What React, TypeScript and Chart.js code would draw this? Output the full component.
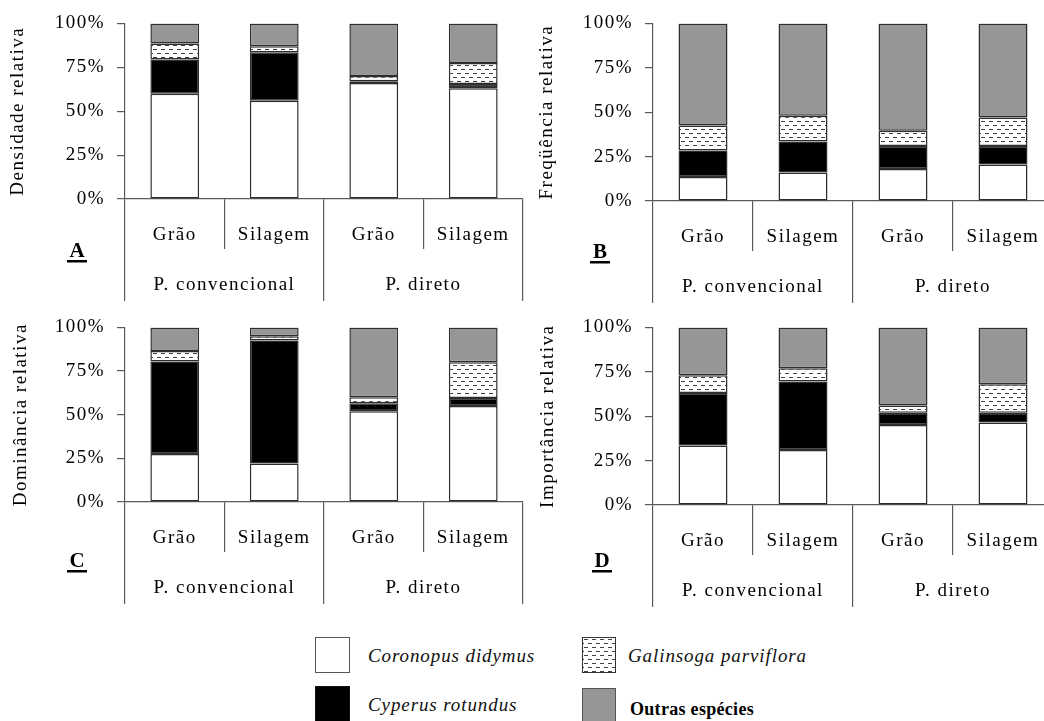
import React, { useEffect, useMemo, useRef } from "react";
import { Chart, registerables } from "chart.js";

Chart.register(...registerables);

// ---------- data ----------
const categories = ["Grão", "Silagem", "Grão", "Silagem"];
const groups = ["P. convencional", "P. direto"];
const yTickValues = [0, 25, 50, 75, 100];
const yTickLabels = ["0%", "25%", "50%", "75%", "100%"];
const speciesNames = ["Coronopus didymus", "Cyperus rotundus", "Galinsoga parviflora", "Outras espécies"];

// A - Densidade relativa
const densCoronopus = [60, 56, 66, 63];
const densCyperus = [19.5, 27.5, 1, 2.5];
const densGalinsoga = [9, 3.5, 3, 12];
const densOutras = [11.5, 13, 30, 22.5];
// B - Freqüência relativa
const freqCoronopus = [13.5, 16, 18, 20.5];
const freqCyperus = [15, 17.5, 13, 10.5];
const freqGalinsoga = [14, 14.5, 8.5, 16];
const freqOutras = [57.5, 52, 60.5, 53];
// C - Dominância relativa
const domCoronopus = [27.5, 22, 52, 55];
const domCyperus = [53, 70.5, 4.5, 4.5];
const domGalinsoga = [6, 2.5, 3.5, 20.5];
const domOutras = [13.5, 5, 40, 20];
// D - Importância relativa
const impCoronopus = [33.5, 31, 45, 46.5];
const impCyperus = [29.5, 38.5, 7, 5.5];
const impGalinsoga = [10, 7.5, 4, 16];
const impOutras = [27, 23, 44, 32];

// ---------- styles ----------
const FONT = "'Liberation Serif', 'Times New Roman', serif";
const TEXT = "#000000";
const AXIS = "#5a5a5a";
const BAR_BORDER = "#2e2e2e";
const GREY = "#969696";

Chart.defaults.font.family = FONT;
Chart.defaults.font.size = 19;
Chart.defaults.color = TEXT;

function makePatternCanvas(): HTMLCanvasElement {
  const c = document.createElement("canvas");
  c.width = 8;
  c.height = 8;
  const g = c.getContext("2d")!;
  g.fillStyle = "#ffffff";
  g.fillRect(0, 0, 8, 8);
  g.fillStyle = "#404040";
  g.fillRect(1, 1, 4, 1);
  g.fillRect(5, 5, 3, 1);
  g.fillRect(0, 5, 1, 1);
  return c;
}

type PanelProps = {
  left: number;
  top: number;
  width: number;
  plotTop: number;
  plotHeight: number;
  yWidth: number;
  title: string;
  titlePad: number;
  letter: string;
  letterX: number;
  letterY: number;
  series: number[][];
  patternCanvas: HTMLCanvasElement;
};

const X_H = 50;
const X2_H = 56;

function Panel(p: PanelProps) {
  const ref = useRef<HTMLCanvasElement | null>(null);
  const height = p.plotTop + p.plotHeight + X_H + X2_H;

  useEffect(() => {
    const canvas = ref.current!;
    const ctx = canvas.getContext("2d")!;
    const pattern = ctx.createPattern(p.patternCanvas, "repeat")!;
    const fills = ["#ffffff", "#000000", pattern, GREY];

    const chart = new Chart(canvas, {
      type: "bar",
      data: {
        labels: categories,
        datasets: p.series.map((vals, i) => ({
          label: speciesNames[i],
          data: vals,
          backgroundColor: fills[i] as any,
          borderColor: BAR_BORDER,
          borderWidth: 1.5,
          borderSkipped: false,
          barPercentage: 0.49,
          categoryPercentage: 1,
          xAxisID: "x",
          yAxisID: "y",
        })),
      },
      options: {
        responsive: false,
        animation: false,
        devicePixelRatio: 1,
        layout: { padding: { top: p.plotTop, left: 0, right: 1, bottom: 0 } },
        plugins: { legend: { display: false }, tooltip: { enabled: false } },
        scales: {
          x: {
            type: "category",
            position: "bottom",
            weight: 0,
            stacked: true,
            offset: true,
            grid: { offset: true, drawOnChartArea: false, drawTicks: true, tickLength: X_H, color: AXIS, lineWidth: 1.2 },
            border: { display: true, color: AXIS, width: 1.2 },
            ticks: { padding: -25, color: TEXT, font: { size: 19 }, maxRotation: 0, autoSkip: false },
            afterFit: (s: any) => {
              s.height = X_H;
            },
          } as any,
          x2: {
            type: "category",
            labels: groups,
            position: "bottom",
            weight: 1,
            offset: true,
            grid: { offset: true, drawOnChartArea: false, drawTicks: true, tickLength: 52, color: AXIS, lineWidth: 1.2 },
            border: { display: false },
            ticks: { padding: -27, color: TEXT, font: { size: 19 }, maxRotation: 0, autoSkip: false },
            afterFit: (s: any) => {
              s.height = X2_H;
            },
          } as any,
          y: {
            type: "linear",
            position: "left",
            stacked: true,
            min: 0,
            max: 100,
            afterBuildTicks: (s: any) => {
              s.ticks = yTickValues.map((v) => ({ value: v }));
            },
            ticks: {
              padding: 12,
              color: TEXT,
              font: { size: 19 },
              callback: (v: any) => yTickLabels[yTickValues.indexOf(Number(v))],
            },
            grid: { drawOnChartArea: false, drawTicks: true, tickLength: 8, color: AXIS, lineWidth: 1.2 },
            border: { display: true, color: AXIS, width: 1.2 },
            title: {
              display: true,
              text: p.title,
              color: TEXT,
              font: { size: 19 },
              padding: { top: p.titlePad, bottom: 0 },
            },
            afterFit: (s: any) => {
              s.width = p.yWidth;
            },
          } as any,
        },
      },
      plugins: [
        {
          id: "spacing",
          beforeDraw(c: any) {
            c.ctx.letterSpacing = "1.5px";
          },
          afterDraw(c: any) {
            const g = c.ctx as CanvasRenderingContext2D;
            g.save();
            (g as any).letterSpacing = "0px";
            g.font = `bold 21px ${FONT}`;
            g.fillStyle = TEXT;
            g.textAlign = "center";
            g.textBaseline = "alphabetic";
            g.fillText(p.letter, p.letterX, p.letterY);
            g.fillRect(p.letterX - 10, p.letterY + 3, 20, 2.5);
            g.restore();
          },
        },
      ],
    });
    return () => chart.destroy();
  }, []);

  return (
    <canvas
      ref={ref}
      width={p.width}
      height={height}
      style={{ position: "absolute", left: p.left, top: p.top, width: p.width, height, display: "block" }}
    />
  );
}

const legendText: React.CSSProperties = {
  position: "absolute",
  fontFamily: FONT,
  fontSize: 19,
  fontStyle: "italic",
  letterSpacing: "0.9px",
  color: "#111",
  lineHeight: "22px",
  whiteSpace: "nowrap",
};

export default function App() {
  const patternCanvas = useMemo(() => makePatternCanvas(), []);
  const patternUrl = useMemo(() => patternCanvas.toDataURL(), [patternCanvas]);

  return (
    <div
      style={{
        position: "absolute",
        left: 0,
        top: 0,
        width: 1044,
        height: 721,
        overflow: "hidden",
        background: "#ffffff",
      }}
    >
      <Panel
        left={0}
        top={0}
        width={524}
        plotTop={20}
        plotHeight={179}
        yWidth={125}
        title="Densidade relativa"
        titlePad={7}
        letter="A"
        letterX={77}
        letterY={257}
        series={[densCoronopus, densCyperus, densGalinsoga, densOutras]}
        patternCanvas={patternCanvas}
      />
      <Panel
        left={524}
        top={0}
        width={530}
        plotTop={22}
        plotHeight={179}
        yWidth={129}
        title="Freqüência relativa"
        titlePad={12}
        letter="B"
        letterX={76}
        letterY={258}
        series={[freqCoronopus, freqCyperus, freqGalinsoga, freqOutras]}
        patternCanvas={patternCanvas}
      />
      <Panel
        left={0}
        top={304}
        width={524}
        plotTop={20}
        plotHeight={178}
        yWidth={125}
        title="Dominância relativa"
        titlePad={10}
        letter="C"
        letterX={77}
        letterY={263}
        series={[domCoronopus, domCyperus, domGalinsoga, domOutras]}
        patternCanvas={patternCanvas}
      />
      <Panel
        left={524}
        top={304}
        width={530}
        plotTop={20}
        plotHeight={181}
        yWidth={129}
        title="Importância relativa"
        titlePad={13}
        letter="D"
        letterX={78}
        letterY={263}
        series={[impCoronopus, impCyperus, impGalinsoga, impOutras]}
        patternCanvas={patternCanvas}
      />

      {/* legend */}
      <div style={{ position: "absolute", left: 315, top: 637, width: 33, height: 34, border: "1px solid #555", background: "#ffffff" }} />
      <div style={{ ...legendText, left: 368, top: 645 }}>{speciesNames[0]}</div>
      <div
        style={{
          position: "absolute",
          left: 582,
          top: 637,
          width: 32,
          height: 34,
          border: "1px solid #333",
          backgroundImage: `url(${patternUrl})`,
          backgroundRepeat: "repeat",
        }}
      />
      <div style={{ ...legendText, left: 628, top: 645 }}>{speciesNames[2]}</div>
      <div style={{ position: "absolute", left: 315, top: 686, width: 33, height: 40, border: "1px solid #111", background: "#000000" }} />
      <div style={{ ...legendText, left: 368, top: 694 }}>{speciesNames[1]}</div>
      <div style={{ position: "absolute", left: 582, top: 688, width: 32, height: 40, border: "1px solid #555", background: GREY }} />
      <div
        style={{
          ...legendText,
          left: 630,
          top: 698,
          fontStyle: "normal",
          fontWeight: "bold",
          fontSize: 18,
          letterSpacing: "0.3px",
          color: "#000",
        }}
      >
        {speciesNames[3]}
      </div>
    </div>
  );
}
